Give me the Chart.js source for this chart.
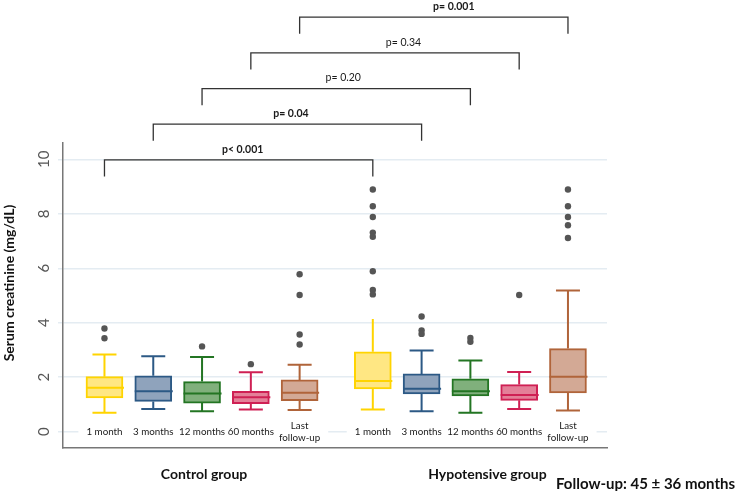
<!DOCTYPE html>
<html>
<head>
<meta charset="utf-8">
<script src="https://cdn.jsdelivr.net/npm/chart.js@4"></script>
<style>
  html, body { margin: 0; padding: 0; background: #fff; }
</style>
</head>
<body>
<canvas id="creatChart" width="740" height="491"></canvas>
<script>
// Categorias
const groupNames = ['Control group', 'Hypotensive group'];
const timeLabels = [['1 month'], ['3 months'], ['12 months'], ['60 months'], ['Last', 'follow-up']];
const yTicks = [0, 2, 4, 6, 8, 10];

// Control group (mg/dL)
const controlMin    = [0.69, 0.83, 0.75, 0.81, 0.80];
const controlQ1     = [1.24, 1.11, 1.05, 1.03, 1.14];
const controlMedian = [1.61, 1.48, 1.40, 1.26, 1.43];
const controlQ3     = [2.02, 2.05, 1.84, 1.48, 1.90];
const controlMax    = [2.83, 2.77, 2.74, 2.18, 2.46];
const controlOutliers = [[3.79, 3.43], [], [3.13], [2.48], [5.78, 5.02, 3.57, 3.20]];

// Hypotensive group (mg/dL)
const hypoMin    = [0.81, 0.75, 0.69, 0.83, 0.78];
const hypoQ1     = [1.57, 1.39, 1.31, 1.15, 1.42];
const hypoMedian = [1.86, 1.58, 1.48, 1.35, 2.02];
const hypoQ3     = [2.93, 2.12, 1.94, 1.73, 3.05];
const hypoMax    = [4.14, 2.98, 2.61, 2.19, 5.18];
const hypoOutliers = [[8.89, 8.28, 7.88, 7.31, 7.16, 5.89, 5.20, 5.04], [4.23, 3.72, 3.59], [3.44, 3.30], [5.02], [8.89, 8.28, 7.88, 7.58, 7.11]];

// p-values (control vs hypotensive, same time point)
const pValues = ['p< 0.001', 'p= 0.04', 'p= 0.20', 'p= 0.34', 'p= 0.001'];
const followUpNote = 'Follow-up: 45 \u00b1 36 months';

// Estilos
const boxLine = ['#ffd400', '#2c5985', '#237523', '#cf2054', '#b0643a'];
const boxFill = ['#ffe783', '#8fa3bc', '#80b07c', '#e47f98', '#d3a995'];
const pBold = [true, true, false, false, true];
const pTextShift = [4, 3.5, 7, 18.5, 20];
const bracket = { base: 9.98, step: 1.31, drop: 0.61 };
const groupTitleShift = [2, 17];
const noUpperCap = [[1, 0]]; // [group, time]

const groups = [
  { min: controlMin, q1: controlQ1, med: controlMedian, q3: controlQ3, max: controlMax, out: controlOutliers },
  { min: hypoMin, q1: hypoQ1, med: hypoMedian, q3: hypoQ3, max: hypoMax, out: hypoOutliers }
];
const xPos = (g, i) => 1 + i + g * 5.5;

const boxData = [], fills = [], lines = [], outlierData = [];
groups.forEach((s, g) => {
  s.q1.forEach((q1, i) => {
    boxData.push({ x: xPos(g, i), y: [q1, s.q3[i]] });
    fills.push(boxFill[i]);
    lines.push(boxLine[i]);
    s.out[i].forEach(v => outlierData.push({ x: xPos(g, i), y: v }));
  });
});

const FONT = 'Lato, "Open Sans", sans-serif';
const BOX_W = 37, CAP_W = 24;

const boxExtras = {
  id: 'boxExtras',
  beforeDatasetsDraw(chart) {
    const { ctx, scales: { x, y } } = chart;
    ctx.save();
    // rótulos das categorias (dentro da área, sobre a linha do zero)
    ctx.font = '9.8px ' + FONT;
    ctx.textAlign = 'center';
    ctx.textBaseline = 'middle';
    const lh = 11.6;
    const py = y.getPixelForValue(0);
    // primeiro os fundos brancos, depois os textos
    groups.forEach((s, g) => timeLabels.forEach((lbl, i) => {
      const px = x.getPixelForValue(xPos(g, i));
      const w = Math.max(...lbl.map(t => ctx.measureText(t).width)) + 16;
      const h = lbl.length * lh + 4;
      ctx.fillStyle = '#fff';
      ctx.fillRect(px - w / 2, py - h / 2, w, h);
    }));
    ctx.fillStyle = '#1a1a1a';
    groups.forEach((s, g) => timeLabels.forEach((lbl, i) => {
      const px = x.getPixelForValue(xPos(g, i));
      lbl.forEach((t, k) => ctx.fillText(t, px, py + (k - (lbl.length - 1) / 2) * lh));
    }));
    // bigodes
    ctx.lineWidth = 2;
    groups.forEach((s, g) => s.q1.forEach((q1, i) => {
      const px = x.getPixelForValue(xPos(g, i));
      ctx.strokeStyle = boxLine[i];
      ctx.beginPath();
      ctx.moveTo(px, y.getPixelForValue(s.q3[i]));
      ctx.lineTo(px, y.getPixelForValue(s.max[i]));
      ctx.moveTo(px, y.getPixelForValue(q1));
      ctx.lineTo(px, y.getPixelForValue(s.min[i]));
      const skipCap = noUpperCap.some(([a, b]) => a === g && b === i);
      if (!skipCap) {
        ctx.moveTo(px - CAP_W / 2, y.getPixelForValue(s.max[i]));
        ctx.lineTo(px + CAP_W / 2, y.getPixelForValue(s.max[i]));
      }
      ctx.moveTo(px - CAP_W / 2, y.getPixelForValue(s.min[i]));
      ctx.lineTo(px + CAP_W / 2, y.getPixelForValue(s.min[i]));
      ctx.stroke();
    }));
    ctx.restore();
  },
  afterDatasetsDraw(chart) {
    const { ctx, scales: { x, y } } = chart;
    ctx.save();
    ctx.lineWidth = 2;
    groups.forEach((s, g) => s.med.forEach((m, i) => {
      const px = x.getPixelForValue(xPos(g, i));
      const py = y.getPixelForValue(m);
      ctx.strokeStyle = boxLine[i];
      ctx.beginPath();
      ctx.moveTo(px - BOX_W / 2, py);
      ctx.lineTo(px + BOX_W / 2 + 1, py);
      ctx.stroke();
    }));
    ctx.restore();
  },
  afterDraw(chart) {
    const { ctx, scales: { x, y } } = chart;
    ctx.save();
    // colchetes de comparação
    ctx.strokeStyle = '#333';
    ctx.lineWidth = 1.3;
    ctx.textAlign = 'center';
    ctx.textBaseline = 'middle';
    pValues.forEach((p, i) => {
      const level = bracket.base + i * bracket.step;
      const xa = x.getPixelForValue(xPos(0, i));
      const xb = x.getPixelForValue(xPos(1, i));
      const yl = y.getPixelForValue(level);
      const yd = y.getPixelForValue(level - bracket.drop);
      ctx.beginPath();
      ctx.moveTo(xa, yd);
      ctx.lineTo(xa, yl);
      ctx.lineTo(xb, yl);
      ctx.lineTo(xb, yd);
      ctx.stroke();
      ctx.font = (pBold[i] ? 'bold ' : '') + '10.5px ' + FONT;
      ctx.fillStyle = '#1a1a1a';
      ctx.fillText(p, (xa + xb) / 2 + pTextShift[i], yl - 10.5);
    });
    // nomes dos grupos
    ctx.font = 'bold 14px ' + FONT;
    ctx.fillStyle = '#111';
    groupNames.forEach((n, g) => {
      ctx.fillText(n, x.getPixelForValue(xPos(g, 2)) + groupTitleShift[g], 474);
    });
    ctx.font = 'bold 15px ' + FONT;
    ctx.textAlign = 'left';
    ctx.fillText(followUpNote, 556, 484);
    // título do eixo y
    ctx.translate(9, 283);
    ctx.rotate(-Math.PI / 2);
    ctx.textAlign = 'center';
    ctx.font = 'bold 14px ' + FONT;
    ctx.fillText('Serum creatinine (mg/dL)', 0, 0);
    ctx.restore();
  }
};

const ctx = document.getElementById('creatChart').getContext('2d');
const chart = new Chart(ctx, {
  type: 'bar',
  data: {
    datasets: [{
      type: 'bar',
      data: boxData,
      backgroundColor: fills,
      borderColor: lines,
      borderWidth: 2,
      borderSkipped: false,
      barThickness: BOX_W,
      grouped: false,
      order: 2
    }, {
      type: 'scatter',
      data: outlierData,
      pointRadius: 3.2,
      pointBackgroundColor: '#555',
      pointBorderWidth: 0,
      order: 1
    }]
  },
  options: {
    responsive: false,
    animation: false,
    devicePixelRatio: 1,
    layout: { padding: { top: 143, right: 133, bottom: 43, left: 0 } },
    plugins: { legend: { display: false }, tooltip: { enabled: false } },
    scales: {
      x: {
        type: 'linear',
        min: 0.15,
        max: 11.3,
        offset: false,
        grid: { display: false },
        ticks: { display: false },
        border: { display: true, color: '#777', width: 1.5 },
        afterFit: s => { s.height = 0; }
      },
      y: {
        min: -0.6,
        max: 10.6,
        afterBuildTicks: s => { s.ticks = yTicks.map(v => ({ value: v })); },
        grid: { color: '#e4ecf2', lineWidth: 1.5, tickLength: 5 },
        border: { display: true, color: '#777', width: 1.5 },
        ticks: {
          font: { family: FONT, size: 15 },
          color: '#555',
          minRotation: 90,
          maxRotation: 90,
          crossAlign: 'center',
          padding: 5
        },
        afterFit: s => { s.width = 63; }
      }
    }
  },
  plugins: [boxExtras]
});
</script>
</body>
</html>
